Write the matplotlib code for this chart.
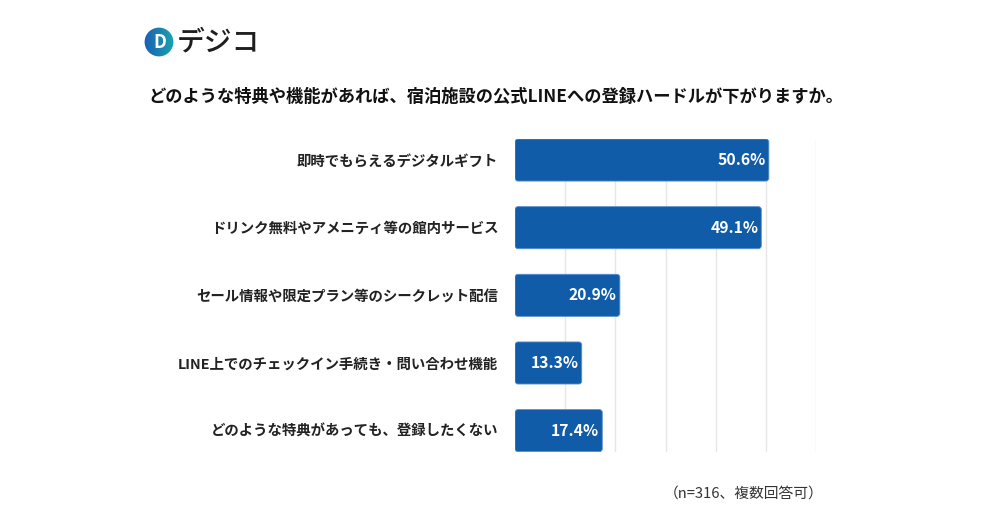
import numpy as np
import matplotlib
matplotlib.use("Agg")
import matplotlib.pyplot as plt
from matplotlib.patches import FancyBboxPatch, Circle

plt.rcParams['font.family'] = ['Noto Sans CJK JP', 'DejaVu Sans']

# data
categories = [
    "即時でもらえるデジタルギフト",
    "ドリンク無料やアメニティ等の館内サービス",
    "セール情報や限定プラン等のシークレット配信",
    "LINE上でのチェックイン手続き・問い合わせ機能",
    "どのような特典があっても、登録したくない",
]
values = [50.6, 49.1, 20.9, 13.3, 17.4]
grid_ticks = [10, 20, 30, 40, 50, 60]

title = "どのような特典や機能があれば、宿泊施設の公式LINEへの登録ハードルが下がりますか。"
note = "（n=316、複数回答可）"

bar_color = "#105ca8"

fig = plt.figure(figsize=(10, 5.31), dpi=100)
fig.patch.set_facecolor("white")

ax = fig.add_axes([0.515, 1 - 452 / 531, 0.301, 313 / 531])
y = np.arange(len(categories))
bh = 0.622
bars = ax.barh(y, values, height=bh, color=bar_color, alpha=0)

# rounded versions of the bars
for b in bars:
    x0, y0 = b.get_x(), b.get_y()
    w, h = b.get_width(), b.get_height()
    p = FancyBboxPatch((x0, y0), w, h,
                       boxstyle="round,pad=0,rounding_size=0.6",
                       mutation_aspect=5 / 67.5,
                       facecolor=bar_color, edgecolor="#5a8fd0",
                       linewidth=0.6, zorder=3)
    ax.add_patch(p)

for yi, v in zip(y, values):
    ax.text(v - 0.6, yi, f"{v:.1f}%", color="white", fontsize=11.3,
            fontweight="bold", ha="right", va="center", zorder=4)

for g in grid_ticks:
    ax.axvline(g, color="#e6e6e6", linewidth=1.0, zorder=1)

ax.set_xlim(0, 60)
ax.set_ylim(len(categories) - 1 + bh / 2 + 0.005, -bh / 2)
ax.set_yticks(y)
ax.set_yticklabels(categories, fontsize=10.4, fontweight="bold", color="#222222")
ax.tick_params(axis="y", length=0, pad=12)
ax.set_xticks([])
for s in ax.spines.values():
    s.set_visible(False)

fig.text(0.148, 1 - 97 / 531, title, fontsize=12.45, fontweight="bold",
         color="#111111", ha="left", va="center")
fig.text(0.823, 1 - 495 / 531, note, fontsize=10.6, color="#333333",
         ha="right", va="center")

# logo
lax = fig.add_axes([0.144, 1 - 57 / 531, 0.03, 30 / 531])
grad = np.linspace(0, 1, 100)[None, :] * np.ones((100, 1))
im = lax.imshow(grad, cmap=matplotlib.colors.LinearSegmentedColormap.from_list(
    "logo", ["#1a5fb4", "#1aa3b0"]), extent=[0, 1, 0, 1], aspect="auto")
circ = Circle((0.5, 0.5), 0.48, transform=lax.transData)
im.set_clip_path(circ)
lax.text(0.52, 0.48, "D", color="white", fontsize=13, fontweight="bold",
         ha="center", va="center")
lax.set_xlim(0, 1)
lax.set_ylim(0, 1)
lax.axis("off")
fig.text(0.177, 1 - 42 / 531, "デジコ", fontsize=20, fontweight="medium",
         color="#1e1e1e", ha="left", va="center")

fig.savefig("out.png", dpi=100)
